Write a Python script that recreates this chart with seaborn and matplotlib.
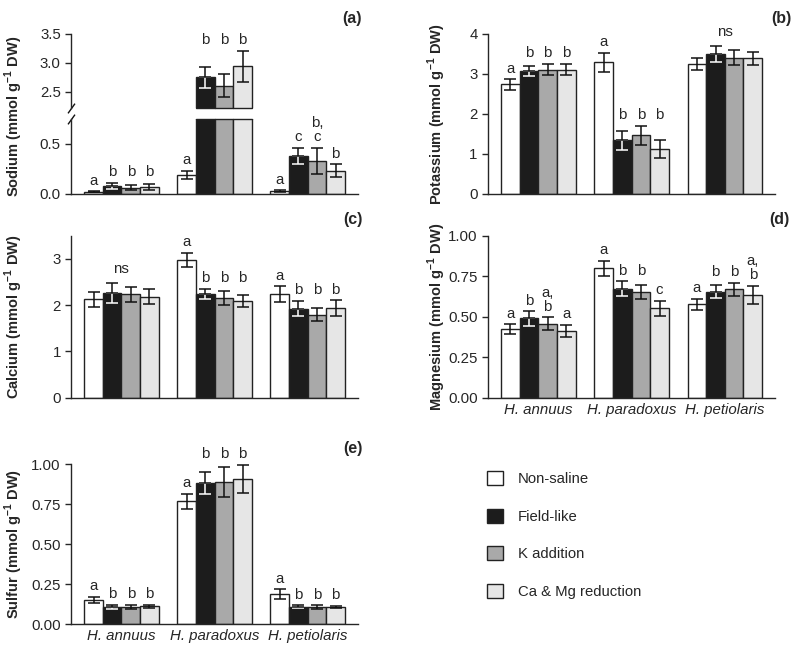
import matplotlib
matplotlib.use("Agg")
import matplotlib.pyplot as plt
from matplotlib.patches import Patch
from matplotlib.container import BarContainer
import pandas as pd
import seaborn as sns

sns.set_style("ticks")
plt.rcParams["font.family"] = ["Liberation Sans", "DejaVu Sans"]
plt.rcParams["mathtext.fontset"] = "custom"
plt.rcParams["mathtext.rm"] = "Liberation Sans"
plt.rcParams["mathtext.bf"] = "Liberation Sans:bold"
plt.rcParams["axes.linewidth"] = 1.0

species = ["H. annuus", "H. paradoxus", "H. petiolaris"]
treatments = ["Non-saline", "Field-like", "K addition", "Ca & Mg reduction"]
colors = ["#ffffff", "#1c1c1c", "#a9a9a9", "#e6e6e6"]

# rows = species, columns = treatments
sodium = [[0.02, 0.08, 0.06, 0.07], [0.19, 2.75, 2.60, 2.94], [0.03, 0.38, 0.33, 0.23]]
sodium_se = [[0.005, 0.03, 0.025, 0.03], [0.04, 0.18, 0.20, 0.27], [0.006, 0.08, 0.13, 0.065]]
sodium_sig = [["a", "b", "b", "b"], ["a", "b", "b", "b"], ["a", "c", "b,\nc", "b"]]

potassium = [[2.74, 3.08, 3.11, 3.11], [3.29, 1.34, 1.47, 1.13], [3.24, 3.50, 3.41, 3.39]]
potassium_se = [[0.13, 0.13, 0.14, 0.14], [0.24, 0.23, 0.24, 0.23], [0.15, 0.19, 0.19, 0.16]]
potassium_sig = [["a", "b", "b", "b"], ["a", "b", "b", "b"], None]

calcium = [[2.13, 2.26, 2.23, 2.18], [2.98, 2.24, 2.16, 2.08], [2.24, 1.92, 1.79, 1.94]]
calcium_se = [[0.16, 0.22, 0.17, 0.16], [0.15, 0.11, 0.15, 0.13], [0.17, 0.16, 0.14, 0.17]]
calcium_sig = [None, ["a", "b", "b", "b"], ["a", "b", "b", "b"]]

magnesium = [[0.423, 0.49, 0.458, 0.412], [0.80, 0.672, 0.652, 0.553], [0.577, 0.654, 0.67, 0.635]]
magnesium_se = [[0.03, 0.045, 0.04, 0.037], [0.047, 0.047, 0.041, 0.047], [0.034, 0.041, 0.04, 0.056]]
magnesium_sig = [["a", "b", "a,\nb", "a"], ["a", "b", "b", "c"], ["a", "b", "b", "a,\nb"]]

sulfur = [[0.15, 0.106, 0.106, 0.11], [0.77, 0.88, 0.89, 0.908], [0.1875, 0.108, 0.106, 0.104]]
sulfur_se = [[0.02, 0.012, 0.012, 0.011], [0.047, 0.069, 0.093, 0.089], [0.03, 0.01, 0.01, 0.006]]
sulfur_sig = [["a", "b", "b", "b"], ["a", "b", "b", "b"], ["a", "b", "b", "b"]]

FS = 10.8


def make_df(means):
    rows = []
    for i, s in enumerate(species):
        for j, t in enumerate(treatments):
            rows.append((s, t, means[i][j]))
    return pd.DataFrame(rows, columns=["species", "treatment", "value"])


def draw(ax, means, errs):
    sns.barplot(data=make_df(means), x="species", y="value", hue="treatment",
                order=species, hue_order=treatments, palette=colors, saturation=1,
                edgecolor="#222222", linewidth=1.0, errorbar=None, width=0.8,
                legend=False, ax=ax)
    bar_conts = [c for c in ax.containers if isinstance(c, BarContainer)]
    pos = {}
    for j, cont in enumerate(bar_conts):
        for bar in cont:
            x = bar.get_x() + bar.get_width() / 2
            i = int(round(x))
            pos[(i, j)] = (x, bar.get_width())
    for (i, j), (x, w) in pos.items():
        m, e = means[i][j], errs[i][j]
        kw = dict(fmt="none", capsize=4.5, elinewidth=1.1, capthick=1.1)
        if j == 1:
            # the part of the bar inside the black bar is drawn white
            ax.errorbar(x, m, yerr=[[e], [0]], ecolor="white", **kw)
            ax.errorbar(x, m, yerr=[[0], [e]], ecolor="#111111", **kw)
        else:
            ax.errorbar(x, m, yerr=e, ecolor="#111111", **kw)
    ax.set_xlabel("")
    ax.set_ylabel("")
    ax.tick_params(axis="x", length=0, labelsize=FS)
    ax.tick_params(axis="y", direction="out", length=4, width=1, labelsize=FS)
    sns.despine(ax=ax)
    return pos


def letters(ax, pos, means, errs, sig, ns_group=None, ymin=None, ymax=None):
    for i in range(len(species)):
        if sig[i] is None:
            continue
        tops = [means[i][j] + errs[i][j] for j in range(len(treatments))]
        for j in range(len(treatments)):
            m = means[i][j]
            if ymin is not None and m < ymin:
                continue
            if ymax is not None and m > ymax:
                continue
            # identical neighbouring letters share one baseline
            k0 = j
            while k0 > 0 and sig[i][k0 - 1] == sig[i][j]:
                k0 -= 1
            k1 = j
            while k1 < len(treatments) - 1 and sig[i][k1 + 1] == sig[i][j]:
                k1 += 1
            y = max(tops[k0:k1 + 1])
            ax.annotate(sig[i][j], (pos[(i, j)][0], y), xytext=(0, 2.5),
                        textcoords="offset points", ha="center", va="bottom",
                        fontsize=FS, linespacing=1.0)
    if ns_group is not None:
        i = ns_group
        top = max(means[i][j] + errs[i][j] for j in range(len(treatments)))
        ax.annotate("ns", (i, top), xytext=(0, 5), textcoords="offset points",
                    ha="center", va="bottom", fontsize=FS)


def ylab(y, x, text):
    fig.text(x, y, text + r" (mmol g$^{\mathbf{-1}}$ DW)", rotation=90,
             ha="center", va="center", fontsize=10.5, fontweight="bold")


def panel_tag(ax, tag, dx):
    ax.annotate(tag, (1, 1), xycoords="axes fraction", xytext=(dx, 6),
                textcoords="offset points", ha="right", va="bottom",
                fontsize=11.5, fontweight="bold")


fig = plt.figure(figsize=(8, 6.53), dpi=100)
L1, R1, L2, R2 = 0.089, 0.4475, 0.61, 0.969

# (a) sodium with broken axis
ax_hi = fig.add_axes([L1, 0.835, R1 - L1, 0.948 - 0.835])
ax_lo = fig.add_axes([L1, 0.703, R1 - L1, 0.818 - 0.703])
pos_hi = draw(ax_hi, sodium, sodium_se)
pos_lo = draw(ax_lo, sodium, sodium_se)
ax_hi.set_ylim(2.22, 3.5)
ax_hi.set_yticks([2.5, 3.0, 3.5])
ax_hi.set_yticklabels(["2.5", "3.0", "3.5"])
ax_hi.spines["bottom"].set_visible(False)
ax_hi.tick_params(axis="x", labelbottom=False)
ax_lo.set_ylim(0, 0.75)
ax_lo.set_yticks([0.0, 0.5])
ax_lo.set_yticklabels(["0.0", "0.5"])
ax_lo.tick_params(axis="x", labelbottom=False)
for (i, j), (x, w) in pos_lo.items():
    if sodium[i][j] > 0.75:
        ax_lo.plot([x - w / 2, x + w / 2], [0.75, 0.75], color="#222222", lw=1, clip_on=False)
        ax_hi.plot([x - w / 2, x + w / 2], [2.22, 2.22], color="#222222", lw=1, clip_on=False)
brk = dict(marker=[(-1, -1.4), (1, 1.4)], markersize=7, ls="none", color="#111111",
           mec="#111111", mew=1, clip_on=False)
ax_hi.plot([0], [0], transform=ax_hi.transAxes, **brk)
ax_lo.plot([0], [1], transform=ax_lo.transAxes, **brk)
letters(ax_hi, pos_hi, sodium, sodium_se, sodium_sig, ymin=1.0)
letters(ax_lo, pos_lo, sodium, sodium_se, sodium_sig, ymax=1.0)
panel_tag(ax_hi, "(a)", 3)
ylab(1 - 116 / 653, 0.0175, "Sodium")

# (b) potassium
ax_b = fig.add_axes([L2, 0.703, R2 - L2, 0.948 - 0.703])
pos = draw(ax_b, potassium, potassium_se)
ax_b.set_ylim(0, 4)
ax_b.set_yticks([0, 1, 2, 3, 4])
ax_b.tick_params(axis="x", labelbottom=False)
letters(ax_b, pos, potassium, potassium_se, potassium_sig, ns_group=2)
panel_tag(ax_b, "(b)", 12)
ylab(0.8255, 0.546, "Potassium")

# (c) calcium
ax_c = fig.add_axes([L1, 0.391, R1 - L1, 0.639 - 0.391])
pos = draw(ax_c, calcium, calcium_se)
ax_c.set_ylim(0, 3.5)
ax_c.set_yticks([0, 1, 2, 3])
ax_c.tick_params(axis="x", labelbottom=False)
letters(ax_c, pos, calcium, calcium_se, calcium_sig, ns_group=0)
panel_tag(ax_c, "(c)", 3)
ylab(0.515, 0.0175, "Calcium")

# (d) magnesium
ax_d = fig.add_axes([L2, 0.391, R2 - L2, 0.639 - 0.391])
pos = draw(ax_d, magnesium, magnesium_se)
ax_d.set_ylim(0, 1.0)
ax_d.set_yticks([0, 0.25, 0.5, 0.75, 1.0])
ax_d.set_yticklabels(["0.00", "0.25", "0.50", "0.75", "1.00"])
for t in ax_d.get_xticklabels():
    t.set_fontstyle("italic")
letters(ax_d, pos, magnesium, magnesium_se, magnesium_sig)
panel_tag(ax_d, "(d)", 10)
ylab(0.515, 0.546, "Magnesium")

# (e) sulfur
ax_e = fig.add_axes([L1, 0.0444, R1 - L1, 0.289 - 0.0444])
pos = draw(ax_e, sulfur, sulfur_se)
ax_e.set_ylim(0, 1.0)
ax_e.set_yticks([0, 0.25, 0.5, 0.75, 1.0])
ax_e.set_yticklabels(["0.00", "0.25", "0.50", "0.75", "1.00"])
for t in ax_e.get_xticklabels():
    t.set_fontstyle("italic")
letters(ax_e, pos, sulfur, sulfur_se, sulfur_sig)
panel_tag(ax_e, "(e)", 3)
ylab(0.167, 0.0175, "Sulfur")

handles = [Patch(facecolor=c, edgecolor="#222222", linewidth=1, label=t)
           for c, t in zip(colors, treatments)]
fig.legend(handles=handles, loc="upper left", bbox_to_anchor=(0.592, 0.299),
           frameon=False, fontsize=10.7, labelspacing=1.5, handlelength=1.1,
           handleheight=1.1, handletextpad=1.0)

fig.savefig("out.png", dpi=100)
